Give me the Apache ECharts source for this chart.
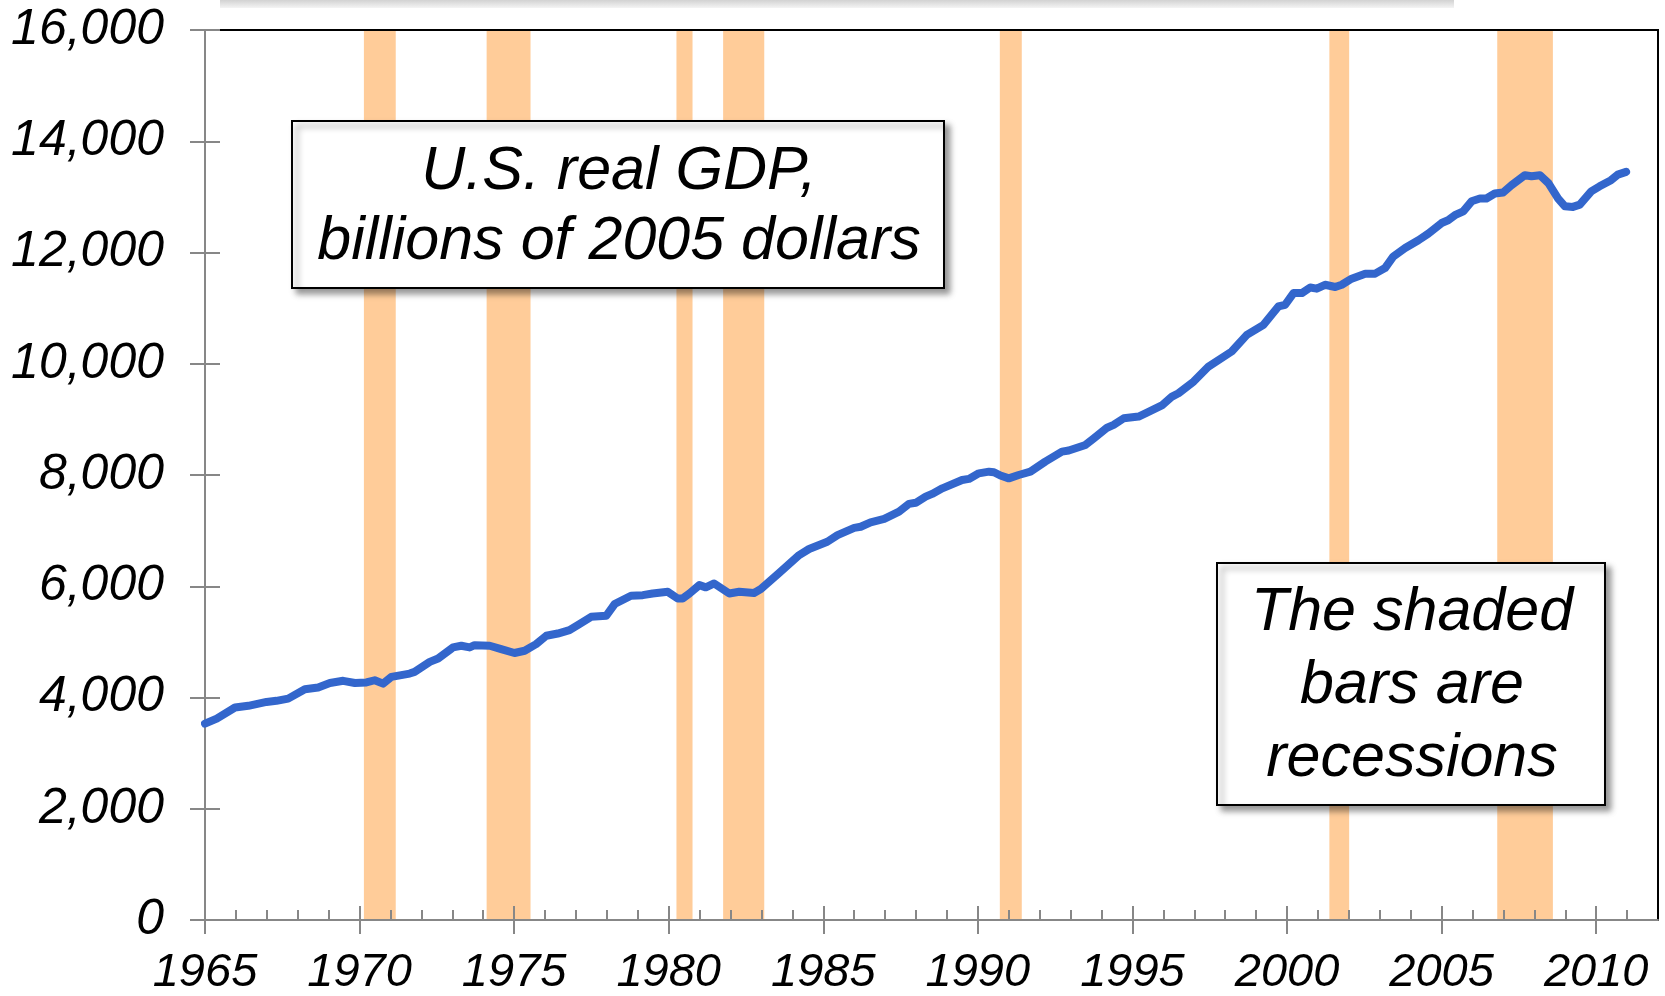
<!DOCTYPE html>
<html>
<head>
<meta charset="utf-8">
<title>U.S. real GDP</title>
<script src="https://cdn.jsdelivr.net/npm/echarts@6.0.0/dist/echarts.min.js"></script>
<style>
  html, body { margin: 0; padding: 0; background: #fff; }
  #chart { width: 1665px; height: 996px; }
</style>
</head>
<body>
<div id="chart"></div>
<script>
// quarter positions (decimal years)
const years = [
  1965.00, 1965.38, 1965.97, 1966.40, 1966.99, 1967.31, 1967.69, 1968.23, 1968.66, 1969.04,
  1969.47, 1969.85, 1970.22, 1970.49, 1970.76, 1971.03, 1971.62, 1971.78, 1972.27, 1972.54,
  1973.02, 1973.29, 1973.56, 1973.72, 1974.21, 1974.58, 1975.01, 1975.34, 1975.71, 1976.04,
  1976.41, 1976.79, 1977.11, 1977.49, 1977.98, 1978.25, 1978.78, 1979.16, 1979.48, 1979.97,
  1980.29, 1980.45, 1980.67, 1980.99, 1981.20, 1981.47, 1981.96, 1982.28, 1982.76, 1982.98,
  1983.57, 1984.22, 1984.54, 1985.13, 1985.46, 1986.00, 1986.21, 1986.53, 1986.97, 1987.45,
  1987.77, 1987.99, 1988.31, 1988.52, 1988.85, 1989.49, 1989.71, 1990.03, 1990.36, 1990.52,
  1990.73, 1991.00, 1991.32, 1991.70, 1992.18, 1992.72, 1992.94, 1993.48, 1993.75, 1994.18,
  1994.39, 1994.72, 1995.20, 1995.47, 1995.95, 1996.28, 1996.49, 1996.98, 1997.46, 1998.21,
  1998.70, 1999.24, 1999.72, 1999.94, 2000.21, 2000.48, 2000.75, 2000.96, 2001.23, 2001.56,
  2001.77, 2002.09, 2002.53, 2002.85, 2003.17, 2003.44, 2003.82, 2004.25, 2004.57, 2005.00,
  2005.21, 2005.43, 2005.70, 2005.97, 2006.24, 2006.45, 2006.72, 2006.99, 2007.26, 2007.69,
  2007.91, 2008.18, 2008.45, 2008.77, 2008.99, 2009.25, 2009.47, 2009.84, 2010.11, 2010.48,
  2010.70, 2010.97
];

// real GDP, billions of 2005 dollars
const gdp = [
  3530, 3620, 3820, 3850, 3920, 3940, 3980, 4150, 4180, 4260,
  4300, 4260, 4270, 4310, 4250, 4370, 4430, 4460, 4640, 4700,
  4900, 4930, 4900, 4940, 4930, 4870, 4800, 4840, 4960, 5110,
  5150, 5210, 5320, 5450, 5470, 5680, 5830, 5840, 5870, 5900,
  5780, 5780, 5870, 6020, 5980, 6050, 5870, 5900, 5880, 5950,
  6240, 6560, 6670, 6800, 6920, 7050, 7070, 7150, 7210, 7340,
  7480, 7500, 7610, 7660, 7760, 7910, 7930, 8030, 8060, 8050,
  7990, 7940, 8000, 8060, 8240, 8420, 8440, 8540, 8660, 8850,
  8900, 9020, 9050, 9120, 9250, 9410, 9470, 9680, 9950, 10220,
  10520, 10700, 11030, 11060, 11270, 11270, 11370, 11350, 11420, 11380,
  11420, 11530, 11620, 11620, 11720, 11930, 12080, 12220, 12340, 12530,
  12580, 12670, 12740, 12920, 12970, 12970, 13060, 13080, 13210, 13390,
  13370, 13390, 13250, 12970, 12830, 12820, 12860, 13100, 13190, 13300,
  13400, 13450
];

// recession bands
const recessionStart = [1970.14, 1974.11, 1980.25, 1981.76, 1990.71, 2001.37, 2006.80];
const recessionEnd   = [1971.17, 1975.53, 1980.77, 1983.09, 1991.42, 2002.01, 2008.60];

// x axis labels
const majorYears = [1965, 1970, 1975, 1980, 1985, 1990, 1995, 2000, 2005, 2010];
const minorYears = [];
for (let y = 1965; y <= 2011; y++) minorYears.push(y);

const axisGray = '#878787';
const fontFam = '"Liberation Sans", Arial, sans-serif';

const chart = echarts.init(document.getElementById('chart'));

const lineData = years.map((y, i) => [y, gdp[i]]);
const areas = recessionStart.map((s, i) => [{ xAxis: s }, { xAxis: recessionEnd[i] }]);

const option = {
  animation: false,
  backgroundColor: '#fff',
  grid: {
    left: 205, right: 7, top: 30, bottom: 76,
    show: true,
    borderColor: '#000',
    borderWidth: 2,
    backgroundColor: 'transparent',
    z: 10,
    outerBoundsMode: 'none'
  },
  xAxis: [
    {
      // labels + major ticks below the axis
      type: 'value', min: 1965, max: 2012, position: 'bottom', z: 10,
      axisLine: { show: true, lineStyle: { color: axisGray, width: 2 } },
      axisTick: { show: true, inside: false, length: 14, customValues: majorYears,
                  lineStyle: { color: axisGray, width: 2 } },
      axisLabel: {
        customValues: majorYears,
        formatter: v => String(v),
        color: '#000', fontSize: 47, fontStyle: 'italic', fontFamily: fontFam,
        lineHeight: 47, margin: 29, hideOverlap: false
      },
      splitLine: { show: false }
    },
    {
      // major ticks above the axis
      type: 'value', min: 1965, max: 2012, position: 'bottom', z: 10,
      axisLine: { show: false },
      axisTick: { show: true, inside: true, length: 14, customValues: majorYears,
                  lineStyle: { color: axisGray, width: 2 } },
      axisLabel: { show: false },
      splitLine: { show: false }
    },
    {
      // yearly minor ticks
      type: 'value', min: 1965, max: 2012, position: 'bottom', z: 10,
      axisLine: { show: false },
      axisTick: { show: true, inside: true, length: 10, customValues: minorYears,
                  lineStyle: { color: axisGray, width: 2 } },
      axisLabel: { show: false },
      splitLine: { show: false }
    }
  ],
  yAxis: [
    {
      type: 'value', min: 0, max: 16000, interval: 2000, position: 'left', z: 10,
      axisLine: { show: true, lineStyle: { color: axisGray, width: 2 } },
      axisTick: { show: true, inside: false, length: 15, lineStyle: { color: axisGray, width: 2 } },
      axisLabel: {
        color: '#000', fontSize: 50, fontStyle: 'italic', fontFamily: fontFam,
        margin: 41,
        formatter: v => v.toLocaleString('en-US')
      },
      splitLine: { show: false }
    },
    {
      type: 'value', min: 0, max: 16000, interval: 2000, position: 'left', z: 10,
      axisLine: { show: false },
      axisTick: { show: true, inside: true, length: 15, lineStyle: { color: axisGray, width: 2 } },
      axisLabel: { show: false },
      splitLine: { show: false }
    }
  ],
  series: [
    {
      // recession shading only
      type: 'line', data: [], z: 1, silent: true,
      markArea: {
        silent: true,
        itemStyle: { color: '#FFCC99' },
        data: areas
      }
    },
    {
      name: 'Real GDP',
      type: 'line',
      data: lineData,
      z: 20,
      symbol: 'none',
      smooth: false,
      lineStyle: { color: '#3366CC', width: 8, cap: 'round', join: 'round' }
    }
  ],
  graphic: [
    {
      // bottom edge of a box cropped off above the chart
      type: 'rect', z: 90,
      shape: { x: 220, y: 0, width: 1234, height: 8 },
      style: {
        fill: new echarts.graphic.LinearGradient(0, 0, 0, 1, [
          { offset: 0, color: '#d2d2d2' }, { offset: 1, color: '#f4f4f4' }
        ])
      }
    },
    {
      type: 'rect', z: 100,
      shape: { x: 292, y: 121, width: 652, height: 167 },
      style: {
        fill: '#fff', stroke: '#000', lineWidth: 2,
        shadowBlur: 6, shadowOffsetX: 5, shadowOffsetY: 5, shadowColor: 'rgba(0,0,0,0.4)'
      }
    },
    {
      type: 'text', z: 101, x: 619, y: 207,
      style: {
        text: 'U.S. real GDP,\nbillions of 2005 dollars',
        font: 'italic 61px ' + fontFam,
        fill: '#000', align: 'center', verticalAlign: 'middle', lineHeight: 70
      }
    },
    {
      type: 'rect', z: 100,
      shape: { x: 1217, y: 563, width: 388, height: 242 },
      style: {
        fill: '#fff', stroke: '#000', lineWidth: 2,
        shadowBlur: 6, shadowOffsetX: 5, shadowOffsetY: 5, shadowColor: 'rgba(0,0,0,0.4)'
      }
    },
    {
      type: 'text', z: 101, x: 1412, y: 686,
      style: {
        text: 'The shaded\nbars are\nrecessions',
        font: 'italic 61px ' + fontFam,
        fill: '#000', align: 'center', verticalAlign: 'middle', lineHeight: 73
      }
    }
  ]
};

chart.setOption(option);
</script>
</body>
</html>
